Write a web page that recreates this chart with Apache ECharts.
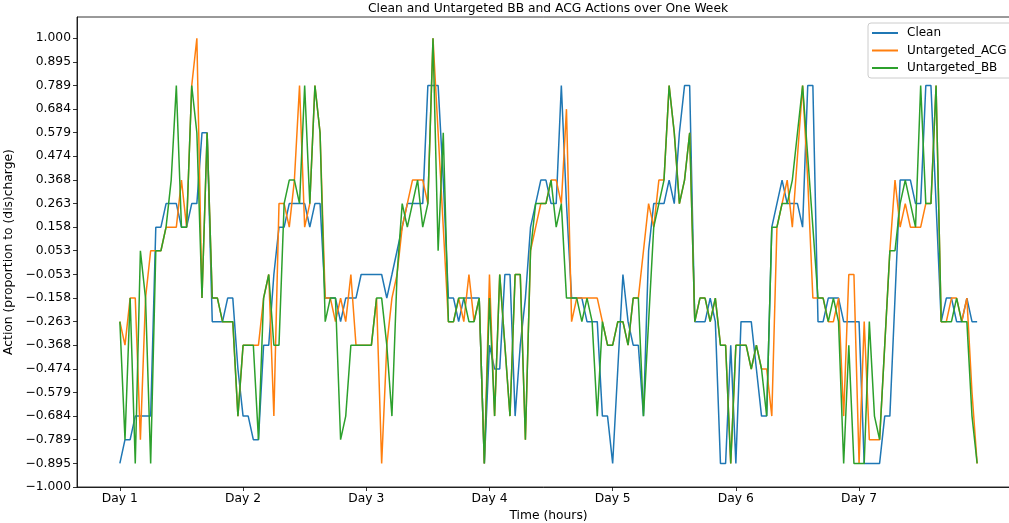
<!DOCTYPE html>
<html>
<head>
<meta charset="utf-8">
<script src="https://cdn.jsdelivr.net/npm/echarts@6/dist/echarts.min.js"></script>
<style>
  html, body { margin: 0; padding: 0; background: #fff; }
  #main { width: 1009px; height: 523px; }
</style>
</head>
<body>
<div id="main"></div>
<script>
// hourly actions, one value per hour of the week (h0 .. h167)
var clean = [
  -0.895,-0.789,-0.789,-0.684,-0.684,-0.684,-0.684,0.158,0.158,0.263,
  0.263,0.263,0.158,0.158,0.263,0.263,0.579,0.579,-0.263,-0.263,
  -0.263,-0.158,-0.158,-0.474,-0.684,-0.684,-0.789,-0.789,-0.368,-0.368,
  -0.053,0.158,0.158,0.263,0.263,0.263,0.263,0.158,0.263,0.263,
  -0.158,-0.158,-0.158,-0.263,-0.158,-0.158,-0.158,-0.053,-0.053,-0.053,
  -0.053,-0.053,-0.158,-0.053,0.053,0.158,0.263,0.263,0.263,0.263,
  0.789,0.789,0.789,0.368,-0.158,-0.158,-0.263,-0.158,-0.158,-0.158,
  -0.158,-0.895,-0.368,-0.474,-0.474,-0.053,-0.053,-0.684,-0.368,-0.158,
  0.158,0.263,0.368,0.368,0.263,0.263,0.789,0.263,-0.158,-0.158,
  -0.158,-0.263,-0.263,-0.263,-0.684,-0.684,-0.895,-0.474,-0.053,-0.263,
  -0.368,-0.368,-0.684,0.053,0.263,0.263,0.263,0.368,0.263,0.579,
  0.789,0.789,-0.263,-0.263,-0.263,-0.158,-0.263,-0.895,-0.895,-0.368,
  -0.895,-0.263,-0.263,-0.263,-0.474,-0.684,-0.684,0.158,0.263,0.368,
  0.263,0.263,0.263,0.158,0.789,0.789,-0.263,-0.263,-0.158,-0.158,
  -0.158,-0.263,-0.263,-0.263,-0.263,-0.895,-0.895,-0.895,-0.895,-0.684,
  -0.684,-0.158,0.368,0.368,0.368,0.263,0.263,0.789,0.789,0.263,
  -0.263,-0.158,-0.158,-0.263,-0.263,-0.158,-0.263,-0.263
];
var untargetedACG = [
  -0.263,-0.368,-0.158,-0.158,-0.789,-0.158,0.053,0.053,0.053,0.158,
  0.158,0.158,0.368,0.158,0.789,1.000,-0.158,0.579,-0.158,-0.158,
  -0.263,-0.263,-0.263,-0.684,-0.368,-0.368,-0.368,-0.368,-0.158,-0.053,
  -0.684,0.263,0.263,0.158,0.368,0.789,0.158,0.263,0.789,0.579,
  -0.158,-0.158,-0.263,-0.158,-0.263,-0.053,-0.368,-0.368,-0.368,-0.368,
  -0.158,-0.895,-0.368,-0.158,-0.053,0.158,0.263,0.368,0.368,0.368,
  0.263,1.000,0.579,0.158,-0.263,-0.263,-0.158,-0.263,-0.053,-0.263,
  -0.158,-0.895,-0.053,-0.684,-0.053,-0.368,-0.684,-0.053,-0.053,-0.789,
  0.053,0.158,0.263,0.263,0.368,0.368,0.263,0.684,-0.263,-0.158,
  -0.158,-0.158,-0.158,-0.158,-0.263,-0.368,-0.368,-0.263,-0.263,-0.368,
  -0.158,-0.158,0.053,0.263,0.158,0.368,0.368,0.789,0.579,0.263,
  0.368,0.579,-0.263,-0.158,-0.158,-0.263,-0.158,-0.368,-0.368,-0.895,
  -0.368,-0.368,-0.368,-0.474,-0.368,-0.474,-0.474,-0.684,0.158,0.263,
  0.368,0.158,0.474,0.789,0.368,-0.158,-0.158,-0.158,-0.263,-0.263,
  -0.158,-0.684,-0.053,-0.053,-0.895,-0.263,-0.789,-0.789,-0.789,-0.368,
  0.053,0.368,0.158,0.263,0.158,0.158,0.158,0.263,0.263,0.789,
  -0.263,-0.263,-0.158,-0.158,-0.263,-0.158,-0.579,-0.895
];
var untargetedBB = [
  -0.263,-0.789,-0.158,-0.895,0.053,-0.158,-0.895,0.053,0.053,0.158,
  0.368,0.789,0.158,0.158,0.789,0.579,-0.158,0.579,-0.158,-0.158,
  -0.263,-0.263,-0.263,-0.684,-0.368,-0.368,-0.368,-0.789,-0.158,-0.053,
  -0.368,-0.368,0.263,0.368,0.368,0.263,0.789,0.263,0.789,0.579,
  -0.263,-0.158,-0.158,-0.789,-0.684,-0.368,-0.368,-0.368,-0.368,-0.368,
  -0.158,-0.158,-0.368,-0.684,-0.053,0.263,0.158,0.263,0.368,0.158,
  0.263,1.000,0.053,0.579,-0.263,-0.263,-0.158,-0.158,-0.263,-0.263,
  -0.158,-0.895,-0.158,-0.684,-0.053,-0.368,-0.684,-0.053,-0.053,-0.789,
  0.053,0.263,0.263,0.263,0.368,0.158,0.263,-0.158,-0.158,-0.158,
  -0.263,-0.158,-0.263,-0.684,-0.263,-0.368,-0.368,-0.263,-0.263,-0.368,
  -0.158,-0.158,-0.684,-0.263,0.158,0.263,0.368,0.789,0.579,0.263,
  0.368,0.579,-0.263,-0.158,-0.158,-0.263,-0.158,-0.368,-0.368,-0.895,
  -0.368,-0.368,-0.368,-0.474,-0.368,-0.474,-0.684,0.158,0.158,0.263,
  0.263,0.368,0.579,0.789,0.474,0.158,-0.158,-0.158,-0.263,-0.158,
  -0.263,-0.895,-0.368,-0.895,-0.895,-0.895,-0.263,-0.684,-0.789,-0.368,
  0.053,0.053,0.263,0.368,0.263,0.158,0.789,0.263,0.263,0.789,
  -0.263,-0.263,-0.263,-0.158,-0.263,-0.263,-0.684,-0.895
];

var yTicks = [-1.000,-0.895,-0.789,-0.684,-0.579,-0.474,-0.368,-0.263,-0.158,-0.053,
  0.053,0.158,0.263,0.368,0.474,0.579,0.684,0.789,0.895,1.000];
var xTicks = [0, 24, 48, 72, 96, 120, 144];
var xTickLabels = ['Day 1', 'Day 2', 'Day 3', 'Day 4', 'Day 5', 'Day 6', 'Day 7'];

function pairs(arr) {
  var out = [];
  for (var h = 0; h < arr.length; h++) out.push([h, arr[h]]);
  return out;
}

var myChart = echarts.init(document.getElementById('main'), null, { renderer: 'canvas' });
var font = 'DejaVu Sans';
var fs = 12.3;
var option = {
  animation: false,
  backgroundColor: '#fff',
  title: {
    text: 'Clean and Untargeted BB and ACG Actions over One Week',
    left: 548,
    top: 3,
    padding: 0,
    textAlign: 'center',
    textStyle: { fontFamily: font, fontSize: fs, fontWeight: 'normal', color: '#000' }
  },
  legend: {
    orient: 'vertical',
    left: 868,
    top: 23,
    padding: [4, 24, 4, 4],
    itemGap: 5.5,
    itemWidth: 26,
    itemHeight: 2,
    icon: 'rect',
    backgroundColor: 'rgba(255,255,255,0.8)',
    borderColor: '#cccccc',
    borderWidth: 1,
    borderRadius: 3,
    data: ['Clean', 'Untargeted_ACG', 'Untargeted_BB'],
    textStyle: { fontFamily: font, fontSize: 12, color: '#000', padding: [0, 0, 0, 4] }
  },
  grid: {
    left: 77, top: 17, right: -11, bottom: 36,
    containLabel: false,
    outerBoundsMode: 'none',
    show: true, borderColor: '#000', borderWidth: 0.8
  },
  xAxis: {
    type: 'value',
    min: -8.35,
    max: 175.35,
    name: 'Time (hours)',
    nameLocation: 'middle',
    nameGap: 14,
    nameTextStyle: { fontFamily: font, fontSize: fs, color: '#000' },
    axisLine: { show: true, onZero: false, lineStyle: { color: '#000', width: 0.8 } },
    axisTick: { show: true, length: 4, customValues: xTicks, lineStyle: { color: '#000', width: 0.8 } },
    axisLabel: {
      customValues: xTicks,
      fontFamily: font, fontSize: fs, color: '#000', margin: 6,
      formatter: function (v) { return xTickLabels[xTicks.indexOf(v)]; }
    },
    splitLine: { show: false }
  },
  yAxis: {
    type: 'value',
    min: -1,
    max: 1.0947,
    name: 'Action (proportion to (dis)charge)',
    nameLocation: 'middle',
    nameGap: 47,
    nameTextStyle: { fontFamily: font, fontSize: fs, color: '#000' },
    axisLine: { show: true, onZero: false, lineStyle: { color: '#000', width: 0.8 } },
    axisTick: { show: true, length: 4, customValues: yTicks, lineStyle: { color: '#000', width: 0.8 } },
    axisLabel: {
      customValues: yTicks,
      fontFamily: font, fontSize: fs, color: '#000', margin: 6,
      formatter: function (v) { return v.toFixed(3).replace('-', '\u2212'); }
    },
    splitLine: { show: false }
  },
  series: [
    { name: 'Clean', type: 'line', data: pairs(clean), showSymbol: false, symbol: 'none',
      color: '#1f77b4', lineStyle: { width: 1.5 } },
    { name: 'Untargeted_ACG', type: 'line', data: pairs(untargetedACG), showSymbol: false, symbol: 'none',
      color: '#ff7f0e', lineStyle: { width: 1.5 } },
    { name: 'Untargeted_BB', type: 'line', data: pairs(untargetedBB), showSymbol: false, symbol: 'none',
      color: '#2ca02c', lineStyle: { width: 1.5 } }
  ]
};
myChart.setOption(option);
</script>
</body>
</html>
